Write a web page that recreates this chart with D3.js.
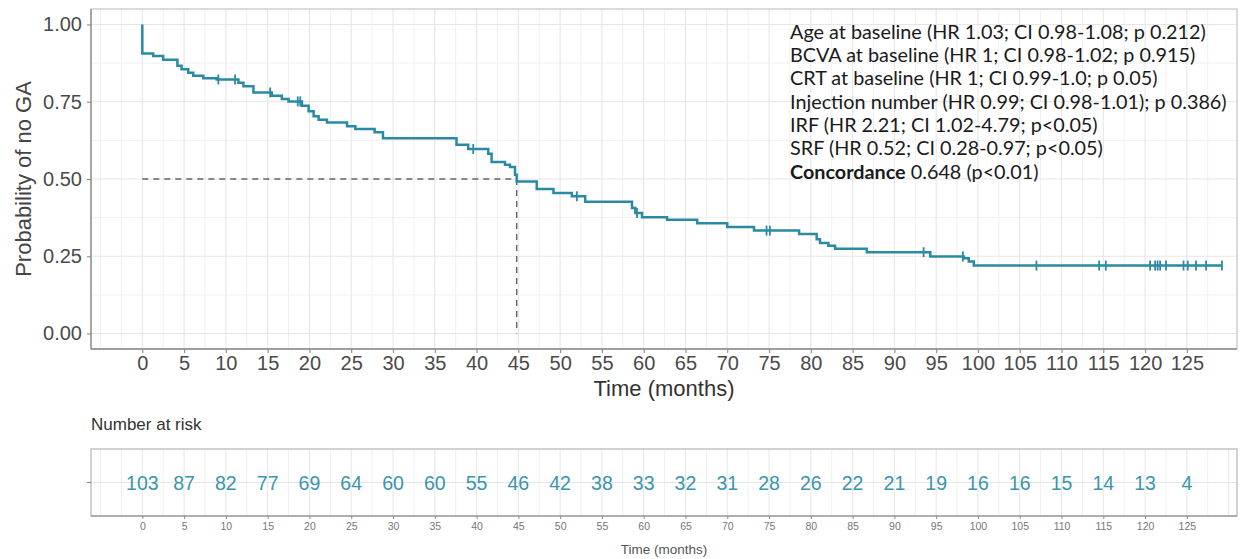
<!DOCTYPE html>
<html>
<head>
<meta charset="utf-8">
<script src="https://cdn.jsdelivr.net/npm/d3@7/dist/d3.min.js"></script>
<style>
  html, body { margin: 0; padding: 0; background: #fff; }
  svg { display: block; }
</style>
</head>
<body>
<svg id="chart" width="1243" height="559"></svg>
<script>
// ---------------- data ----------------
const eventTimes = [0, 1.3, 2.5, 4.2, 4.7, 5.5, 6.1, 7.3, 8.9, 11.5, 12.1, 13.3, 15.5, 16.7, 17.5, 19.1, 19.9, 20.5, 21.1, 22.1, 24.5, 25.5, 27.8, 28.8, 37.6, 39.0, 41.4, 41.8, 43.4, 44.0, 44.6, 44.8, 47.2, 49.2, 51.4, 53.0, 58.6, 59.0, 59.8, 62.8, 66.4, 70.0, 73.2, 78.6, 80.7, 81.1, 82.1, 82.9, 86.7, 94.3, 98.3, 98.9, 99.5];
const survival = [0.906, 0.898, 0.886, 0.866, 0.855, 0.844, 0.834, 0.826, 0.822, 0.811, 0.800, 0.780, 0.769, 0.759, 0.751, 0.737, 0.719, 0.703, 0.692, 0.683, 0.671, 0.662, 0.651, 0.632, 0.611, 0.597, 0.582, 0.555, 0.546, 0.539, 0.514, 0.492, 0.468, 0.455, 0.444, 0.426, 0.406, 0.390, 0.376, 0.368, 0.357, 0.345, 0.333, 0.322, 0.305, 0.293, 0.284, 0.274, 0.263, 0.249, 0.244, 0.233, 0.220];
const lastTime = 129.2;
const censorTimes = [9.1, 11.1, 15.3, 18.6, 18.9, 39.6, 52.0, 59.2, 74.7, 75.1, 93.5, 98.2, 107.0, 114.5, 115.3, 120.6, 121.2, 121.5, 121.8, 122.5, 124.6, 125.1, 126.1, 127.3, 129.2];
const medianTime = 44.8;
const xTicks = d3.range(0, 126, 5);
const yTicks = [0, 0.25, 0.5, 0.75, 1.0];
const riskTimes = d3.range(0, 126, 5);
const riskCounts = [103, 87, 82, 77, 69, 64, 60, 60, 55, 46, 42, 38, 33, 32, 31, 28, 26, 22, 21, 19, 16, 16, 15, 14, 13, 4];
const legendLines = [
  ["", "Age at baseline (HR 1.03; CI 0.98-1.08; p 0.212)"],
  ["", "BCVA at baseline (HR 1; CI 0.98-1.02; p 0.915)"],
  ["", "CRT at baseline (HR 1; CI 0.99-1.0; p 0.05)"],
  ["", "Injection number (HR 0.99; CI 0.98-1.01); p 0.386)"],
  ["", "IRF (HR 2.21; CI 1.02-4.79; p<0.05)"],
  ["", "SRF (HR 0.52; CI 0.28-0.97; p<0.05)"],
  ["Concordance", " 0.648 (p<0.01)"]
];

// ---------------- layout ----------------
const svg = d3.select("#chart");
const FONT = "'Liberation Sans', Arial, Helvetica, sans-serif";
const curveColor = "#2a8aa3";
const riskColor = "#3a95ad";

const P = { left: 91, right: 1237, top: 9, bottom: 349 };
const T = { top: 449, bottom: 516 };

const x = d3.scaleLinear().domain([-6.14, 131]).range([P.left, P.right]);
const y = d3.scaleLinear().domain([-0.05, 1.05]).range([P.bottom, P.top]);

// ---------------- main panel grid ----------------
const gGrid = svg.append("g");
const minorX = d3.range(-5, 131, 2.5).filter(v => v % 5 !== 0 || v < 0);
gGrid.selectAll("line.vminor").data(minorX).join("line")
  .attr("x1", d => x(d)).attr("x2", d => x(d)).attr("y1", P.top).attr("y2", P.bottom)
  .attr("stroke", "#f0f0f0").attr("stroke-width", 1);
gGrid.selectAll("line.hminor").data([0.125, 0.375, 0.625, 0.875]).join("line")
  .attr("x1", P.left).attr("x2", P.right).attr("y1", d => y(d)).attr("y2", d => y(d))
  .attr("stroke", "#f0f0f0").attr("stroke-width", 1);
gGrid.selectAll("line.vmajor").data(xTicks).join("line")
  .attr("x1", d => x(d)).attr("x2", d => x(d)).attr("y1", P.top).attr("y2", P.bottom)
  .attr("stroke", "#e6e6e6").attr("stroke-width", 1.1);
gGrid.selectAll("line.hmajor").data(yTicks).join("line")
  .attr("x1", P.left).attr("x2", P.right).attr("y1", d => y(d)).attr("y2", d => y(d))
  .attr("stroke", "#e6e6e6").attr("stroke-width", 1.1);

// panel border
svg.append("rect").attr("x", P.left).attr("y", P.top)
  .attr("width", P.right - P.left).attr("height", P.bottom - P.top)
  .attr("fill", "none").attr("stroke", "#c4c4c4").attr("stroke-width", 1.2);

// axes
const xAxis = svg.append("g").attr("transform", `translate(0,${P.bottom})`)
  .call(d3.axisBottom(x).tickValues(xTicks).tickSize(4).tickSizeOuter(0).tickPadding(3).tickFormat(d3.format("d")));
const yAxis = svg.append("g").attr("transform", `translate(${P.left},0)`)
  .call(d3.axisLeft(y).tickValues(yTicks).tickSize(4).tickSizeOuter(0).tickPadding(5).tickFormat(d3.format(".2f")));
[xAxis, yAxis].forEach(g => {
  g.select(".domain").attr("stroke", "#8a8a8a").attr("stroke-width", 1.3);
  g.selectAll(".tick line").attr("stroke", "#8a8a8a").attr("stroke-width", 1.1);
  g.selectAll(".tick text").attr("fill", "#4a4a4a").style("font-family", FONT).style("font-size", "20px");
});
xAxis.select(".domain").attr("d", `M${P.left},0H${P.right}`);
yAxis.select(".domain").attr("d", `M0,${P.top}V${P.bottom}`);

// axis titles
svg.append("text").attr("x", (P.left + P.right) / 2).attr("y", 396)
  .attr("text-anchor", "middle").attr("fill", "#333")
  .style("font-family", FONT).style("font-size", "22px").text("Time (months)");
svg.append("text").attr("transform", `translate(31,${(P.top + P.bottom) / 2}) rotate(-90)`)
  .attr("text-anchor", "middle").attr("fill", "#444")
  .style("font-family", FONT).style("font-size", "22px").text("Probability of no GA");

// median dashed lines
svg.append("line").attr("x1", x(0)).attr("x2", x(medianTime)).attr("y1", y(0.5)).attr("y2", y(0.5))
  .attr("stroke", "#666").attr("stroke-width", 1.4).attr("stroke-dasharray", "6,5");
svg.append("line").attr("x1", x(medianTime)).attr("x2", x(medianTime)).attr("y1", y(0.5)).attr("y2", y(0))
  .attr("stroke", "#666").attr("stroke-width", 1.4).attr("stroke-dasharray", "6,5");

// survival curve
const pts = [[0, 1]].concat(eventTimes.map((t, i) => [t, survival[i]]));
pts.push([lastTime, survival[survival.length - 1]]);
const line = d3.line().x(d => x(d[0])).y(d => y(d[1])).curve(d3.curveStepAfter);
svg.append("path").attr("d", line(pts)).attr("fill", "none")
  .attr("stroke", curveColor).attr("stroke-width", 2.5);

// censor marks
const bis = d3.bisector(d => d[0]).right;
function S(t) { const i = bis(pts, t) - 1; return pts[Math.max(0, i)][1]; }
svg.selectAll("line.cens").data(censorTimes).join("line")
  .attr("x1", d => x(d)).attr("x2", d => x(d))
  .attr("y1", d => y(S(d)) - 5).attr("y2", d => y(S(d)) + 5)
  .attr("stroke", curveColor).attr("stroke-width", 1.8);

// legend text
const leg = svg.append("g").style("font-family", "Lato, 'Open Sans', sans-serif").attr("fill", "#1a1a1a");
const legTexts = leg.selectAll("text").data(legendLines).join("text")
  .attr("x", 790).attr("y", (d, i) => 31.7 + i * 23.3).attr("dy", "0.36em")
  .style("font-size", "17px");
legTexts.each(function(d) {
  const t = d3.select(this);
  if (d[0]) t.append("tspan").style("font-weight", "bold").text(d[0]);
  t.append("tspan").text(d[1]);
});
// fit width of widest line to reference (~437px)
const w4 = legTexts.nodes()[3].getComputedTextLength();
const fs = 17 * 437 / w4;
legTexts.style("font-size", fs.toFixed(2) + "px");

// ---------------- risk table ----------------
svg.append("text").attr("x", 91).attr("y", 430).attr("fill", "#333")
  .style("font-family", FONT).style("font-size", "17px").text("Number at risk");

const gT = svg.append("g");
gT.selectAll("line.tv").data(d3.range(-5, 131, 2.5)).join("line")
  .attr("x1", d => x(d)).attr("x2", d => x(d)).attr("y1", T.top).attr("y2", T.bottom)
  .attr("stroke", d => (d % 5 === 0 && d >= 0) ? "#e6e6e6" : "#f0f0f0").attr("stroke-width", 1);
const tMid = (T.top + T.bottom) / 2;
gT.append("line").attr("x1", P.left).attr("x2", P.right).attr("y1", tMid).attr("y2", tMid)
  .attr("stroke", "#e6e6e6").attr("stroke-width", 1.1);
gT.append("rect").attr("x", P.left).attr("y", T.top)
  .attr("width", P.right - P.left).attr("height", T.bottom - T.top)
  .attr("fill", "none").attr("stroke", "#b5b5b5").attr("stroke-width", 1.2);
gT.append("line").attr("x1", P.left - 4).attr("x2", P.left).attr("y1", tMid).attr("y2", tMid)
  .attr("stroke", "#8a8a8a").attr("stroke-width", 1.1);

const tAxis = svg.append("g").attr("transform", `translate(0,${T.bottom})`)
  .call(d3.axisBottom(x).tickValues(xTicks).tickSize(3).tickSizeOuter(0).tickPadding(4).tickFormat(d3.format("d")));
tAxis.select(".domain").attr("d", `M${P.left},0H${P.right}`).attr("stroke", "#8a8a8a").attr("stroke-width", 1.2);
tAxis.selectAll(".tick line").attr("stroke", "#8a8a8a");
tAxis.selectAll(".tick text").attr("fill", "#777").style("font-family", FONT).style("font-size", "10.5px");

svg.append("text").attr("x", (P.left + P.right) / 2).attr("y", 554)
  .attr("text-anchor", "middle").attr("fill", "#555")
  .style("font-family", FONT).style("font-size", "13.5px").text("Time (months)");

gT.selectAll("text.risk").data(riskCounts).join("text")
  .attr("x", (d, i) => x(riskTimes[i])).attr("y", tMid).attr("dy", "0.36em")
  .attr("text-anchor", "middle").attr("fill", riskColor)
  .style("font-family", FONT).style("font-size", "19.5px").text(d => d);
</script>
</body>
</html>
